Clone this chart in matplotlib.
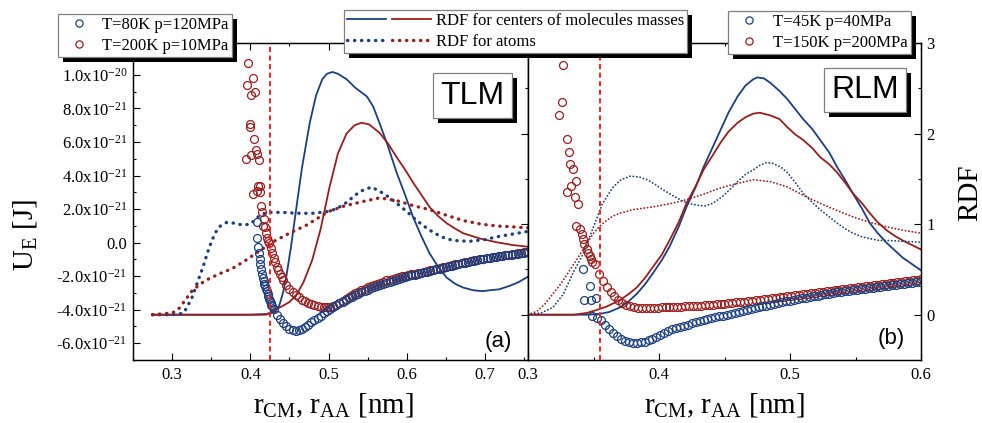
import numpy as np
import matplotlib
matplotlib.use('Agg')
import matplotlib.pyplot as plt
from matplotlib.ticker import MultipleLocator, FuncFormatter
from matplotlib.lines import Line2D
from matplotlib.legend_handler import HandlerTuple
from matplotlib.patches import Rectangle
from matplotlib.transforms import IdentityTransform

plt.rcParams['font.family'] = ['Liberation Serif', 'DejaVu Serif']
plt.rcParams['mathtext.fontset'] = 'custom'
plt.rcParams['mathtext.rm'] = 'Liberation Serif'
plt.rcParams['mathtext.it'] = 'Liberation Serif:italic'
plt.rcParams['mathtext.bf'] = 'Liberation Serif:bold'

BLUE = '#1c3f7e'
RED = '#9a1d1d'
VLINE = '#ff1f1f'
E21 = 1e-21   # energies below are given in units of 1e-21 J

# ---------------- TLM ----------------
# RDF, centres of mass
tlm_cm80_r = [0.275, 0.40, 0.425, 0.432, 0.437, 0.442, 0.446, 0.452, 0.459, 0.466,
              0.476, 0.484, 0.492, 0.498, 0.505, 0.512, 0.523, 0.535, 0.549, 0.557,
              0.565, 0.576, 0.587, 0.598, 0.608, 0.619, 0.629, 0.640, 0.651, 0.662,
              0.672, 0.685, 0.697, 0.706, 0.718, 0.732, 0.743, 0.755]
tlm_cm80_g = [0.0, 0.0, 0.01, 0.04, 0.1, 0.25, 0.42, 0.75, 1.19, 1.62,
              2.12, 2.42, 2.6, 2.66, 2.68, 2.66, 2.6, 2.5, 2.41, 2.3,
              2.12, 1.86, 1.57, 1.32, 1.08, 0.86, 0.68, 0.53, 0.41, 0.34,
              0.3, 0.27, 0.26, 0.27, 0.28, 0.32, 0.36, 0.42]
tlm_cm200_r = [0.275, 0.42, 0.428, 0.44, 0.45, 0.459, 0.468, 0.479, 0.49, 0.501,
               0.512, 0.523, 0.533, 0.542, 0.552, 0.565, 0.576, 0.587, 0.598, 0.608,
               0.619, 0.629, 0.640, 0.651, 0.662, 0.672, 0.694, 0.715, 0.735, 0.755]
tlm_cm200_g = [0.0, 0.0, 0.04, 0.09, 0.14, 0.22, 0.36, 0.6, 0.95, 1.4,
               1.78, 2.0, 2.09, 2.12, 2.1, 2.01, 1.89, 1.74, 1.6, 1.46,
               1.32, 1.19, 1.09, 1.01, 0.95, 0.9, 0.84, 0.8, 0.77, 0.75]
# RDF, atoms
tlm_at80_r = [0.275, 0.30, 0.31, 0.315, 0.32, 0.325, 0.33, 0.335, 0.34, 0.345,
              0.35, 0.355, 0.36, 0.37, 0.38, 0.39, 0.40, 0.41, 0.42, 0.44,
              0.46, 0.48, 0.50, 0.51, 0.52, 0.53, 0.54, 0.555, 0.57, 0.58,
              0.59, 0.60, 0.61, 0.62, 0.63, 0.64, 0.65, 0.66, 0.68, 0.70,
              0.715, 0.735, 0.755]
tlm_at80_g = [0.0, 0.0, 0.01, 0.02, 0.1, 0.18, 0.3, 0.42, 0.54, 0.68,
              0.8, 0.9, 0.97, 1.02, 1.01, 0.99, 1.0, 1.08, 1.13, 1.13,
              1.12, 1.12, 1.14, 1.17, 1.22, 1.29, 1.36, 1.41, 1.34, 1.28,
              1.21, 1.14, 1.06, 0.99, 0.93, 0.88, 0.84, 0.82, 0.81, 0.83,
              0.86, 0.89, 0.92]
tlm_at200_r = [0.275, 0.30, 0.305, 0.31, 0.315, 0.32, 0.326, 0.335, 0.343, 0.36,
               0.377, 0.394, 0.411, 0.428, 0.45, 0.472, 0.50, 0.52, 0.544, 0.565,
               0.587, 0.61, 0.629, 0.65, 0.672, 0.695, 0.715, 0.735, 0.755]
tlm_at200_g = [0.0, 0.02, 0.04, 0.08, 0.14, 0.2, 0.27, 0.33, 0.38, 0.45,
               0.51, 0.6, 0.7, 0.8, 0.9, 0.99, 1.14, 1.2, 1.25, 1.29,
               1.26, 1.2, 1.16, 1.1, 1.04, 1.0, 0.98, 0.97, 0.96]

# interaction energy, T=80K
tlm_u80_r_head = [0.408, 0.408, 0.410, 0.411, 0.412, 0.413, 0.414, 0.415, 0.416, 0.417,
                  0.418, 0.419, 0.420, 0.421, 0.422, 0.423, 0.424, 0.425, 0.426, 0.427,
                  0.428]
tlm_u80_head = [1.25, 0.25, -0.25, -0.6, -0.95, -1.3, -1.6, -1.85, -2.1, -2.3,
                -2.45, -2.6, -2.75, -2.9, -3.05, -3.2, -3.35, -3.5, -3.6, -3.7,
                -3.8]
tlm_u80_r_tail = np.linspace(0.430, 0.754, 82)
tlm_u80_tail = [-3.95, -4.3, -4.55, -4.8, -5.0, -5.13, -5.22, -5.25, -5.22, -5.14,
                -5.03, -4.9, -4.76, -4.62, -4.48, -4.35, -4.22, -4.1, -3.98, -3.86,
                -3.74, -3.63, -3.52, -3.42, -3.32, -3.23, -3.14, -3.05, -2.96, -2.88,
                -2.8, -2.72, -2.65, -2.58, -2.51, -2.45, -2.39, -2.33, -2.27, -2.21,
                -2.16, -2.11, -2.06, -2.01, -1.96, -1.92, -1.87, -1.83, -1.78, -1.74,
                -1.69, -1.65, -1.6, -1.55, -1.5, -1.46, -1.41, -1.37, -1.32, -1.28,
                -1.24, -1.2, -1.16, -1.12, -1.08, -1.04, -1.0, -0.97, -0.94, -0.91,
                -0.88, -0.85, -0.82, -0.79, -0.76, -0.74, -0.71, -0.68, -0.66, -0.63,
                -0.61, -0.58]
# interaction energy, T=200K
tlm_u200_r_head = [0.397, 0.403, 0.396, 0.406, 0.401, 0.399, 0.400, 0.405, 0.407, 0.395,
                   0.401, 0.408, 0.411, 0.410, 0.412, 0.409, 0.404, 0.413, 0.414, 0.415,
                   0.417, 0.416, 0.419, 0.420, 0.421, 0.422, 0.424, 0.426, 0.428, 0.430,
                   0.432, 0.434, 0.436, 0.438, 0.440]
tlm_u200_head = [10.7, 9.8, 9.4, 9.0, 8.8, 7.1, 6.9, 6.2, 5.5, 5.0,
                 5.2, 5.3, 4.9, 3.4, 3.4, 3.1, 2.9, 3.0, 2.2, 1.8,
                 1.4, 1.0, 0.9, 0.6, 0.3, 0.1, 0.0, -0.35, -0.65, -0.9,
                 -1.15, -1.45, -1.65, -1.85, -2.05]
tlm_u200_r_tail = np.linspace(0.442, 0.754, 79)
tlm_u200_tail = [-2.25, -2.5, -2.75, -2.95, -3.12, -3.27, -3.4, -3.51, -3.6, -3.68,
                 -3.75, -3.8, -3.84, -3.86, -3.86, -3.84, -3.78, -3.7, -3.6, -3.48,
                 -3.36, -3.24, -3.13, -3.02, -2.92, -2.83, -2.74, -2.66, -2.58, -2.51,
                 -2.44, -2.38, -2.32, -2.26, -2.21, -2.16, -2.11, -2.06, -2.02, -1.98,
                 -1.94, -1.9, -1.86, -1.84, -1.79, -1.75, -1.7, -1.66, -1.61, -1.57,
                 -1.52, -1.48, -1.43, -1.39, -1.34, -1.3, -1.26, -1.22, -1.18, -1.14,
                 -1.1, -1.06, -1.02, -0.98, -0.95, -0.92, -0.89, -0.86, -0.83, -0.8,
                 -0.77, -0.74, -0.72, -0.69, -0.66, -0.64, -0.61, -0.59, -0.56]
tlm_cut = 0.425

# ---------------- RLM ----------------
rlm_cm45_r = [0.30, 0.345, 0.355, 0.362, 0.37, 0.377, 0.383, 0.389, 0.395, 0.402,
              0.408, 0.415, 0.421, 0.428, 0.434, 0.441, 0.447, 0.453, 0.46, 0.466,
              0.472, 0.475, 0.48, 0.485, 0.492, 0.498, 0.504, 0.51, 0.517, 0.523,
              0.53, 0.536, 0.542, 0.548, 0.555, 0.561, 0.567, 0.574, 0.58, 0.586,
              0.593, 0.6]
rlm_cm45_g = [0.0, 0.0, 0.01, 0.03, 0.08, 0.15, 0.23, 0.33, 0.45, 0.6,
              0.75, 0.97, 1.19, 1.41, 1.63, 1.85, 2.04, 2.23, 2.41, 2.53,
              2.6, 2.62, 2.61, 2.56, 2.47, 2.38, 2.27, 2.16, 2.05, 1.93,
              1.79, 1.63, 1.49, 1.34, 1.17, 1.01, 0.9, 0.79, 0.71, 0.63,
              0.56, 0.49]
rlm_cm150_r = [0.30, 0.335, 0.345, 0.352, 0.36, 0.37, 0.377, 0.383, 0.389, 0.395,
               0.402, 0.408, 0.415, 0.421, 0.428, 0.434, 0.441, 0.447, 0.453, 0.46,
               0.466, 0.472, 0.477, 0.485, 0.492, 0.498, 0.504, 0.51, 0.517, 0.523,
               0.53, 0.536, 0.542, 0.548, 0.555, 0.561, 0.567, 0.574, 0.58, 0.586,
               0.593, 0.6]
rlm_cm150_g = [0.0, 0.0, 0.02, 0.05, 0.09, 0.16, 0.23, 0.3, 0.4, 0.52,
               0.66, 0.82, 1.02, 1.23, 1.42, 1.6, 1.76, 1.9, 2.02, 2.12,
               2.18, 2.22, 2.23, 2.2, 2.16, 2.07, 1.99, 1.93, 1.84, 1.74,
               1.66, 1.57, 1.46, 1.34, 1.23, 1.12, 1.02, 0.93, 0.87, 0.82,
               0.77, 0.72]
rlm_at45_r = [0.30, 0.31, 0.319, 0.327, 0.334, 0.342, 0.35, 0.357, 0.365, 0.371,
              0.378, 0.385, 0.391, 0.397, 0.403, 0.41, 0.416, 0.422, 0.429, 0.435,
              0.441, 0.448, 0.454, 0.46, 0.466, 0.472, 0.477, 0.482, 0.487, 0.493,
              0.498, 0.504, 0.51, 0.517, 0.523, 0.53, 0.536, 0.542, 0.548, 0.555,
              0.561, 0.568, 0.574, 0.587, 0.6]
rlm_at45_g = [0.0, 0.02, 0.08, 0.23, 0.45, 0.67, 0.97, 1.23, 1.41, 1.49,
              1.53, 1.52, 1.49, 1.44, 1.38, 1.32, 1.27, 1.23, 1.21, 1.2,
              1.23, 1.3, 1.38, 1.47, 1.55, 1.6, 1.65, 1.68, 1.67, 1.63,
              1.57, 1.46, 1.34, 1.24, 1.16, 1.08, 1.01, 0.95, 0.9, 0.86,
              0.84, 0.82, 0.82, 0.81, 0.8]
rlm_at150_r = [0.30, 0.307, 0.313, 0.319, 0.325, 0.33, 0.335, 0.34, 0.345, 0.35,
               0.355, 0.36, 0.365, 0.37, 0.38, 0.395, 0.41, 0.421, 0.434, 0.447,
               0.46, 0.472, 0.485, 0.498, 0.51, 0.523, 0.536, 0.548, 0.561, 0.574,
               0.587, 0.6]
rlm_at150_g = [0.0, 0.04, 0.12, 0.23, 0.34, 0.45, 0.56, 0.67, 0.79, 0.9,
               0.98, 1.04, 1.09, 1.12, 1.16, 1.19, 1.23, 1.27, 1.33, 1.4,
               1.45, 1.49, 1.47, 1.41, 1.32, 1.23, 1.15, 1.08, 1.02, 0.97,
               0.93, 0.9]

rlm_u45_r_head = [0.342, 0.347, 0.343, 0.348, 0.352, 0.349, 0.353]
rlm_u45_head = [-1.55, -2.6, -3.4, -3.4, -3.3, -4.4, -4.5]
rlm_u45_r_tail = np.linspace(0.356, 0.599, 82)
rlm_u45_tail = [-4.6, -4.9, -5.15, -5.38, -5.57, -5.72, -5.84, -5.92, -5.96, -5.97,
                -5.95, -5.9, -5.82, -5.72, -5.6, -5.48, -5.37, -5.27, -5.18, -5.1,
                -5.03, -4.96, -4.89, -4.82, -4.75, -4.69, -4.63, -4.57, -4.51, -4.46,
                -4.4, -4.35, -4.3, -4.24, -4.19, -4.13, -4.08, -4.02, -3.97, -3.91,
                -3.86, -3.81, -3.76, -3.71, -3.66, -3.61, -3.56, -3.51, -3.46, -3.41,
                -3.36, -3.32, -3.28, -3.24, -3.2, -3.16, -3.12, -3.08, -3.04, -3.0,
                -2.97, -2.94, -2.91, -2.88, -2.85, -2.82, -2.79, -2.76, -2.73, -2.7,
                -2.67, -2.64, -2.61, -2.58, -2.55, -2.52, -2.49, -2.46, -2.43, -2.4,
                -2.37, -2.34]
rlm_u150_r_head = [0.327, 0.326, 0.324, 0.330, 0.331, 0.332, 0.334, 0.337, 0.333, 0.330,
                   0.336, 0.338, 0.337, 0.340, 0.341, 0.342, 0.343, 0.345, 0.346, 0.347,
                   0.348, 0.349]
rlm_u150_head = [10.6, 8.4, 7.6, 6.2, 5.4, 4.7, 4.4, 3.7, 3.4, 3.0,
                 2.7, 2.3, 1.0, 0.8, 0.5, 0.2, -0.1, -0.4, -0.6, -0.8,
                 -1.0, -1.15]
rlm_u150_r_tail = np.linspace(0.351, 0.600, 84)
rlm_u150_tail = [-1.3, -1.85, -2.3, -2.65, -2.95, -3.2, -3.42, -3.6, -3.72, -3.8,
                 -3.85, -3.87, -3.88, -3.88, -3.88, -3.87, -3.87, -3.86, -3.85, -3.85,
                 -3.84, -3.83, -3.82, -3.81, -3.8, -3.79, -3.77, -3.76, -3.74, -3.72,
                 -3.7, -3.68, -3.66, -3.64, -3.62, -3.6, -3.57, -3.55, -3.52, -3.5,
                 -3.47, -3.44, -3.42, -3.39, -3.36, -3.33, -3.3, -3.27, -3.24, -3.21,
                 -3.18, -3.15, -3.12, -3.09, -3.06, -3.03, -3.0, -2.97, -2.94, -2.91,
                 -2.88, -2.85, -2.82, -2.79, -2.76, -2.73, -2.7, -2.67, -2.64, -2.61,
                 -2.58, -2.55, -2.52, -2.49, -2.46, -2.43, -2.4, -2.37, -2.34, -2.31,
                 -2.28, -2.25, -2.22, -2.19]
rlm_cut = 0.355

labels_tlm = ['T=80K p=120MPa', 'T=200K p=10MPa']
labels_rlm = ['T=45K p=40MPa', 'T=150K p=200MPa']
labels_rdf = ['RDF for centers of molecules masses', 'RDF for atoms']

W, H = 982, 423
U_LIM = (-7e-21, 1.19e-20)
G_LIM = (-0.5, 3.0)


def fx(px):
    return px / W


def fy(py):
    return 1 - py / H


def u_label(v, pos):
    if abs(v) < 1e-30:
        return '0.0'
    e = int(np.floor(np.log10(abs(v)) + 1e-9))
    return r'%.1fx10$^{%d}$' % (v / 10.0**e, e)


big_dot = dict(lw=2.4, ls=(0, (0.1, 2.0)), dash_capstyle='round')
small_dot = dict(lw=1.3, ls=(0, (0.1, 1.8)), dash_capstyle='round')
solid = dict(lw=1.3)
circ = dict(ls='none', marker='o', mfc='none', ms=5.7, mew=0.9)

fig = plt.figure(figsize=(W / 100, H / 100), dpi=100)

# each panel: RDF host axes + energy twin drawn on top of it
ax1 = fig.add_axes([fx(133), fy(360), fx(528) - fx(133), fy(43) - fy(360)])
ax1u = ax1.twinx()
ax2 = fig.add_axes([fx(528), fy(360), fx(921) - fx(528), fy(43) - fy(360)])
ax2u = ax2.twinx()

ax1.plot(tlm_cm80_r, tlm_cm80_g, color=BLUE, **solid)
ax1.plot(tlm_cm200_r, tlm_cm200_g, color=RED, **solid)
ax1.plot(tlm_at80_r, tlm_at80_g, color=BLUE, **big_dot)
ax1.plot(tlm_at200_r, tlm_at200_g, color=RED, **big_dot)

ax1u.plot(np.concatenate([tlm_u200_r_head, tlm_u200_r_tail]),
          np.concatenate([tlm_u200_head, tlm_u200_tail]) * E21, mec=RED, **circ)
ax1u.plot(np.concatenate([tlm_u80_r_head, tlm_u80_r_tail]),
          np.concatenate([tlm_u80_head, tlm_u80_tail]) * E21, mec=BLUE, **circ)
ax1u.axvline(tlm_cut, color=VLINE, lw=1.4, ls=(0, (2.6, 1.8)))

ax2.plot(rlm_cm45_r, rlm_cm45_g, color=BLUE, **solid)
ax2.plot(rlm_cm150_r, rlm_cm150_g, color=RED, **solid)
ax2.plot(rlm_at45_r, rlm_at45_g, color=BLUE, **small_dot)
ax2.plot(rlm_at150_r, rlm_at150_g, color=RED, **small_dot)

ax2u.plot(np.concatenate([rlm_u150_r_head, rlm_u150_r_tail]),
          np.concatenate([rlm_u150_head, rlm_u150_tail]) * E21, mec=RED, **circ)
ax2u.plot(np.concatenate([rlm_u45_r_head, rlm_u45_r_tail]),
          np.concatenate([rlm_u45_head, rlm_u45_tail]) * E21, mec=BLUE, **circ)
ax2u.axvline(rlm_cut, color=VLINE, lw=1.4, ls=(0, (2.6, 1.8)))

# limits and ticks
ax1.set_xlim(0.25, 0.755)
ax2.set_xlim(0.3, 0.6)
for ax in (ax1, ax2):
    ax.set_ylim(*G_LIM)
    ax.xaxis.set_major_locator(MultipleLocator(0.1))
    ax.xaxis.set_minor_locator(MultipleLocator(0.05))
    ax.yaxis.set_major_locator(MultipleLocator(1))
    ax.yaxis.set_minor_locator(MultipleLocator(0.5))
    ax.yaxis.set_ticks_position('right')
    ax.tick_params(which='both', direction='in', top=True, bottom=True,
                   left=False, right=True, labelleft=False, labelsize=12, pad=5)
    ax.tick_params(which='major', length=5, width=0.8)
    ax.tick_params(which='minor', length=2.5, width=0.8)
    ax.xaxis.set_major_formatter(FuncFormatter(lambda v, p: '%.1f' % v))
ax1.tick_params(labelright=False)
ax2.tick_params(labelright=True, axis='y', pad=4)

for axu in (ax1u, ax2u):
    axu.set_ylim(*U_LIM)
    axu.yaxis.set_ticks_position('left')
ax1u.yaxis.set_major_locator(MultipleLocator(2e-21))
ax1u.yaxis.set_minor_locator(MultipleLocator(1e-21))
ax1u.yaxis.set_major_formatter(FuncFormatter(u_label))
ax1u.tick_params(axis='y', which='both', direction='in', left=True, right=False,
                 labelleft=True, labelright=False, labelsize=12, pad=4)
ax1u.tick_params(which='major', length=5, width=0.8)
ax1u.tick_params(which='minor', length=2.5, width=0.8)
ax2u.tick_params(axis='y', which='both', left=False, right=False,
                 labelleft=False, labelright=False)

for ax in (ax1, ax1u, ax2, ax2u):
    for s in ax.spines.values():
        s.set_linewidth(0.9)
    ax.yaxis.get_offset_text().set_visible(False)
    ax.xaxis.get_offset_text().set_visible(False)

# axis titles
xl = r'r$_{\rm CM}$, r$_{\rm AA}$ [nm]'
fig.text(fx(333), fy(413), xl, ha='center', va='baseline', fontsize=21)
fig.text(fx(724), fy(413), xl, ha='center', va='baseline', fontsize=21)
fig.text(fx(25), fy(235), r'U$_{\rm E}$ [J]', rotation=90, ha='center', va='center', fontsize=21)
fig.text(fx(970), fy(193), 'RDF', rotation=90, ha='center', va='center', fontsize=21)

fig.text(fx(498), fy(341), '(a)', ha='center', va='center', fontsize=16, family='Liberation Sans')
fig.text(fx(891), fy(338), '(b)', ha='center', va='center', fontsize=16, family='Liberation Sans')

boxes = []
for lab, cx, cy in [('TLM', 472.5, 95.5), ('RLM', 865, 90)]:
    t = fig.text(fx(cx), fy(cy), lab, ha='center', va='center', fontsize=23,
                 family='Liberation Sans', zorder=6,
                 bbox=dict(boxstyle='square,pad=0.22', fc='white', ec='#808080', lw=0.9))
    boxes.append(t)


# legends
def circ_handle(c):
    return Line2D([], [], ls='none', marker='o', mfc='none', mec=c, ms=5.2, mew=0.9)


leg_kw = dict(loc='upper left', bbox_transform=fig.transFigure, borderaxespad=0,
              fontsize=12, frameon=True, fancybox=False, framealpha=1,
              edgecolor='#808080', labelspacing=0.28, borderpad=0.2)
leg1 = fig.legend([circ_handle(BLUE), circ_handle(RED)], labels_tlm,
                  bbox_to_anchor=(fx(58), fy(14)), handlelength=2.1, handletextpad=0.35,
                  **leg_kw)
rdf_handles = [(Line2D([], [], color=BLUE, **solid), Line2D([], [], color=RED, **solid)),
               (Line2D([], [], color=BLUE, **big_dot), Line2D([], [], color=RED, **big_dot))]
leg2 = fig.legend(rdf_handles, labels_rdf, bbox_to_anchor=(fx(344), fy(10)),
                  handlelength=5.0, handletextpad=0.3,
                  handler_map={tuple: HandlerTuple(ndivide=None, pad=0.4)}, **leg_kw)
leg3 = fig.legend([circ_handle(BLUE), circ_handle(RED)], labels_rlm,
                  bbox_to_anchor=(fx(728), fy(11)), handlelength=2.1, handletextpad=0.4,
                  **leg_kw)
for leg in (leg1, leg2, leg3):
    leg.get_frame().set_linewidth(0.9)
    leg.set_zorder(6)

# black drop shadows behind legends and title boxes
fig.canvas.draw()
frames = [leg.get_window_extent() for leg in (leg1, leg2, leg3)]
frames += [t.get_bbox_patch().get_window_extent() for t in boxes]
for bb in frames:
    fig.add_artist(Rectangle((bb.x0 + 5, bb.y0 - 5), bb.width, bb.height,
                             transform=IdentityTransform(), fc='black', ec='none',
                             zorder=5))

fig.savefig('out.png', dpi=100)
